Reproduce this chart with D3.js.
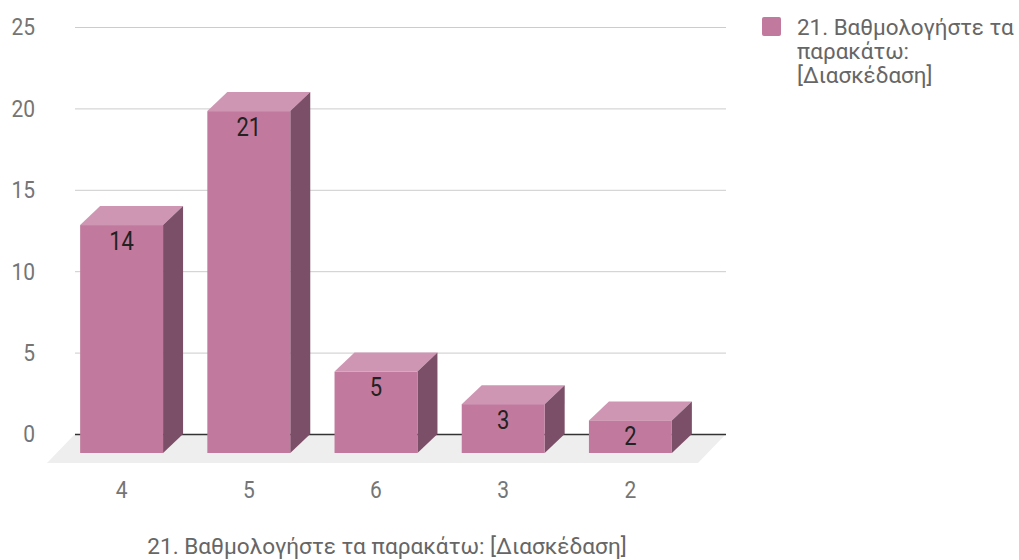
<!DOCTYPE html>
<html lang="el">
<head>
<meta charset="UTF-8">
<title>Διασκέδαση</title>
<script src="https://cdn.jsdelivr.net/npm/d3@7"></script>
<style>
  body { margin: 0; background: #fff; }
  text { font-family: Roboto, "Noto Sans", sans-serif; }
</style>
</head>
<body>
<svg></svg>
<script>
  var categories = ['4', '5', '6', '3', '2'];
  var values = [14, 21, 5, 3, 2];
  var yTicks = [0, 5, 10, 15, 20, 25];
  var seriesName = '21. Βαθμολογήστε τα παρακάτω: [Διασκέδαση]';
  var legendLines = ['21. Βαθμολογήστε τα', 'παρακάτω:', '[Διασκέδαση]'];

  var W = 1019, H = 560;
  var depthX = 20, depthY = 19;   // 3d offset of the back plane
  var plotLeft = 75, plotRight = 726;
  var fs = 21;
  var stretch = 'scale(1,1.15)';  // the labels in the source look a bit tall

  var svg = d3.select('svg').attr('width', W).attr('height', H);

  var x = d3.scaleBand()
      .domain(categories)
      .range([58, 694])
      .paddingInner(0.348)
      .paddingOuter(0.174);

  var y = d3.scaleLinear()
      .domain([0, 25])
      .range([434, 27]);

  // floor
  svg.append('path')
      .attr('d', 'M' + plotLeft + ',' + y(0) + 'L' + plotRight + ',' + y(0) +
                 'L' + (plotRight - 28) + ',' + (y(0) + 29) + 'L' + (plotLeft - 28) + ',' + (y(0) + 29) + 'Z')
      .attr('fill', '#eeeeee');

  // gridlines
  svg.append('g').selectAll('line')
      .data(yTicks)
      .enter().append('line')
      .attr('x1', plotLeft).attr('x2', plotRight)
      .attr('y1', function(d) { return y(d) + 0.5; })
      .attr('y2', function(d) { return y(d) + 0.5; })
      .attr('stroke', function(d) { return d === 0 ? '#333' : '#cccccc'; })
      .attr('stroke-width', function(d) { return d === 0 ? 1.5 : 1; });

  // y labels
  svg.append('g').selectAll('text')
      .data(yTicks)
      .enter().append('text')
      .attr('transform', function(d) { return 'translate(35,' + y(d) + ')' + stretch; })
      .attr('dy', '0.35em')
      .attr('text-anchor', 'end')
      .attr('fill', '#757575')
      .attr('font-size', fs)
      .text(function(d) { return d; });

  var data = categories.map(function(c, i) { return { cat: c, value: values[i] }; });
  var bw = x.bandwidth();

  var bars = svg.append('g').selectAll('g')
      .data(data)
      .enter().append('g');

  // top face
  bars.append('path')
      .attr('d', function(d) {
        var x0 = x(d.cat), yt = y(d.value) + depthY;
        return 'M' + x0 + ',' + yt + 'L' + (x0 + depthX) + ',' + (yt - depthY) +
               'L' + (x0 + bw + depthX) + ',' + (yt - depthY) + 'L' + (x0 + bw) + ',' + yt + 'Z';
      })
      .attr('fill', '#cf96b4');

  // side face
  bars.append('path')
      .attr('d', function(d) {
        var x1 = x(d.cat) + bw, yt = y(d.value) + depthY, yb = y(0) + depthY;
        return 'M' + x1 + ',' + yt + 'L' + (x1 + depthX) + ',' + (yt - depthY) +
               'L' + (x1 + depthX) + ',' + (yb - depthY) + 'L' + x1 + ',' + yb + 'Z';
      })
      .attr('fill', '#7c4f68');

  // front face
  bars.append('rect')
      .attr('x', function(d) { return x(d.cat); })
      .attr('y', function(d) { return y(d.value) + depthY; })
      .attr('width', bw)
      .attr('height', function(d) { return y(0) - y(d.value); })
      .attr('fill', '#c17a9e');

  bars.append('text')
      .attr('transform', function(d) {
        return 'translate(' + (x(d.cat) + bw / 2) + ',' + (y(d.value) + depthY + 16) + ')' + stretch;
      })
      .attr('dy', '0.35em')
      .attr('text-anchor', 'middle')
      .attr('fill', '#222')
      .attr('font-size', 22)
      .text(function(d) { return d.value; });

  // category labels
  svg.append('g').selectAll('text')
      .data(categories)
      .enter().append('text')
      .attr('transform', function(d) { return 'translate(' + (x(d) + bw / 2) + ',490)' + stretch; })
      .attr('dy', '0.35em')
      .attr('text-anchor', 'middle')
      .attr('fill', '#757575')
      .attr('font-size', fs)
      .text(function(d) { return d; });

  // axis title
  svg.append('text')
      .attr('x', 387)
      .attr('y', 546)
      .attr('dy', '0.35em')
      .attr('text-anchor', 'middle')
      .attr('fill', '#666')
      .attr('font-size', 22.6)
      .text(seriesName);

  // legend
  var legend = svg.append('g');
  legend.append('rect')
      .attr('x', 762).attr('y', 17)
      .attr('width', 19).attr('height', 19)
      .attr('rx', 2)
      .attr('fill', '#c17a9e');
  legend.append('text')
      .attr('font-size', 22.4)
      .attr('fill', '#666')
      .selectAll('tspan')
      .data(legendLines)
      .enter().append('tspan')
      .attr('x', 797)
      .attr('y', function(d, i) { return 27 + i * 24; })
      .attr('dy', '0.35em')
      .text(function(d) { return d; });
</script>
</body>
</html>
